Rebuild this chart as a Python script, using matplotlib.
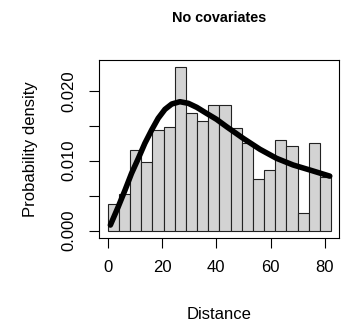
import numpy as np
import matplotlib
matplotlib.use('Agg')
import matplotlib.pyplot as plt

plt.rcParams['font.family'] = ['Liberation Sans', 'DejaVu Sans']

# histogram of detection distances (density scale), 20 equal bins
max_distance = 82.3
bar_density = [0.00376, 0.00529, 0.01157, 0.00976, 0.01443, 0.01486, 0.02343,
               0.01681, 0.01567, 0.01800, 0.01800, 0.01462, 0.01252, 0.00743,
               0.00867, 0.01295, 0.01210, 0.00252, 0.01248, 0.00762]

# fitted pdf
curve_dist = [1.0, 3.9, 6.4, 8.8, 11.3, 13.7, 16.2, 18.6, 21.1, 23.6, 26.6,
              29.7, 32.8, 36.4, 40.1, 43.8, 49.9, 56.1, 62.2, 68.3, 74.5, 81.8]
curve_dens = [0.00081, 0.00343, 0.00581, 0.00820, 0.01034, 0.01249, 0.01439,
              0.01606, 0.01734, 0.01810, 0.01843, 0.01820, 0.01763, 0.01677,
              0.01591, 0.01486, 0.01320, 0.01163, 0.01034, 0.00939, 0.00867,
              0.00780]

x_ticks = [0, 20, 40, 60, 80]
y_ticks = [0.000, 0.005, 0.010, 0.015, 0.020]
y_labels = ['0.000', '', '0.010', '', '0.020']


def main():
    fig = plt.figure(figsize=(3.43, 3.22), dpi=100)
    ax = fig.add_axes([0.2886, 0.2609, 0.6997, 0.5528])

    edges = np.linspace(0, max_distance, len(bar_density) + 1)
    ax.bar(edges[:-1], bar_density, width=np.diff(edges), align='edge',
           color='#d3d3d3', edgecolor='#222222', linewidth=0.8)
    ax.plot(curve_dist, curve_dens, color='black', linewidth=4.0,
            solid_capstyle='round', solid_joinstyle='round')

    ax.set_xlim(-3.2, 85.2)
    ax.set_ylim(-0.00104, 0.02439)
    ax.set_xticks(x_ticks)
    ax.set_yticks(y_ticks)
    ax.set_yticklabels(y_labels)
    ax.tick_params(direction='out', length=7, width=0.8, labelsize=12, pad=9)
    plt.setp(ax.get_yticklabels(), rotation=90, va='center')
    for s in ax.spines.values():
        s.set_linewidth(0.8)

    ax.set_xlabel('Distance', fontsize=12, labelpad=23)
    ax.set_ylabel('Probability density', fontsize=12, labelpad=17)
    ax.set_title('No covariates', fontsize=10.4, fontweight='bold', pad=27)

    fig.savefig('out.png', dpi=100)


if __name__ == '__main__':
    main()
